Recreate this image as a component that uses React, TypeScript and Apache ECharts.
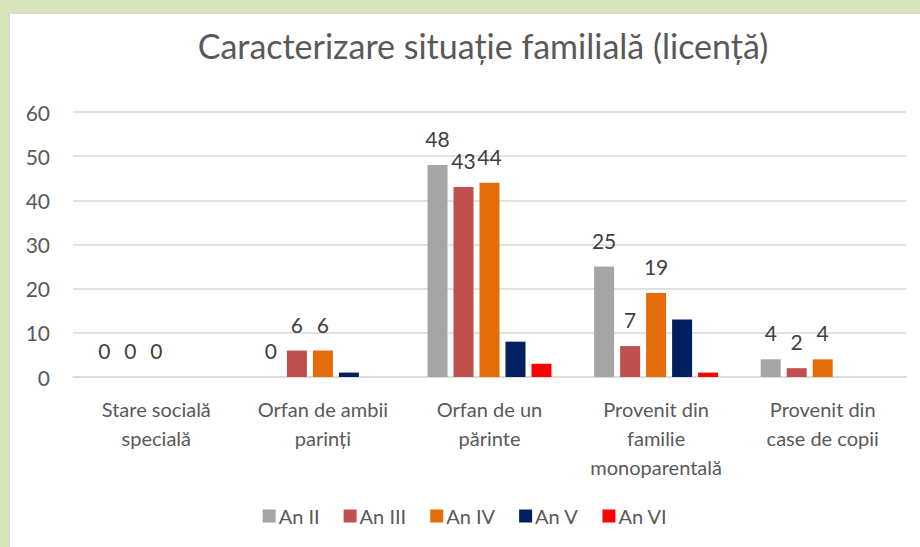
import React, { useEffect, useRef } from "react";
import * as echarts from "echarts";

const categories = [
  "Stare socială\nspecială",
  "Orfan de ambii\nparinți",
  "Orfan de un\npărinte",
  "Provenit din\nfamilie\nmonoparentală",
  "Provenit din\ncase de copii",
];
const seriesNames = ["An II", "An III", "An IV", "An V", "An VI"];
const anII = [0, 0, 48, 25, 4];
const anIII = [0, 6, 43, 7, 2];
const anIV = [0, 6, 44, 19, 4];
const anV = [null, 1, 8, 13, null];
const anVI = [null, null, 3, 1, null];
const colors = ["#a5a5a5", "#c0504d", "#e46c0a", "#002060", "#ff0000"];
const showLabels = [true, true, true, false, false];
const yTicks = { min: 0, max: 60, interval: 10 };

const FONT = "Lato, 'Open Sans', sans-serif";

export default function App() {
  const ref = useRef<HTMLDivElement>(null);
  useEffect(() => {
    if (!ref.current) return;
    const chart = echarts.init(ref.current, undefined, { renderer: "svg" });
    const data = [anII, anIII, anIV, anV, anVI];
    chart.setOption({
      animation: false,
      backgroundColor: "#ffffff",
      textStyle: { fontFamily: FONT },
      graphic: [
        {
          type: "text",
          x: 473,
          y: 31,
          style: {
            text: "Caracterizare situație familială (licență)",
            fill: "#595959",
            font: `34px ${FONT}`,
            textAlign: "center",
            textVerticalAlign: "middle",
          },
        },
      ],
      legend: {
        bottom: 16,
        left: "center",
        itemWidth: 13,
        itemHeight: 13,
        itemGap: 24,
        icon: "rect",
        textStyle: { color: "#595959", fontSize: 20, fontFamily: FONT, padding: [0, 0, 0, -2] },
        data: seriesNames,
      },
      grid: { left: 63, right: 14, top: 98, bottom: 170, containLabel: false },
      xAxis: {
        type: "category",
        data: categories,
        axisTick: { show: false },
        axisLine: { lineStyle: { color: "#d9d9d9", width: 1.5 } },
        axisLabel: {
          color: "#595959",
          fontSize: 20,
          lineHeight: 29,
          margin: 17,
          interval: 0,
          fontFamily: FONT,
        },
      },
      yAxis: {
        type: "value",
        min: yTicks.min,
        max: yTicks.max,
        interval: yTicks.interval,
        axisLine: { show: false },
        axisTick: { show: false },
        splitLine: { lineStyle: { color: "#d9d9d9", width: 1.5 } },
        axisLabel: { color: "#595959", fontSize: 21, margin: 23, fontFamily: FONT },
      },
      series: seriesNames.map((name, i) => ({
        name,
        type: "bar",
        data: data[i],
        itemStyle: { color: colors[i] },
        barGap: "30%",
        barCategoryGap: "25.6%",
        label: {
          show: showLabels[i],
          position: "top",
          distance: 16,
          color: "#404040",
          fontSize: 21,
          fontFamily: FONT,
        },
      })),
    });
    return () => chart.dispose();
  }, []);

  return (
    <div
      style={{
        position: "fixed",
        left: 0,
        top: 0,
        width: 920,
        height: 547,
        background: "#d8e4bc",
        overflow: "hidden",
      }}
    >
      <div
        style={{
          position: "absolute",
          left: 8,
          top: 12,
          width: 912,
          height: 535,
          background: "#d9d9d9",
        }}
      />
      <div
        ref={ref}
        style={{ position: "absolute", left: 10, top: 14, width: 910, height: 533 }}
      />
    </div>
  );
}
